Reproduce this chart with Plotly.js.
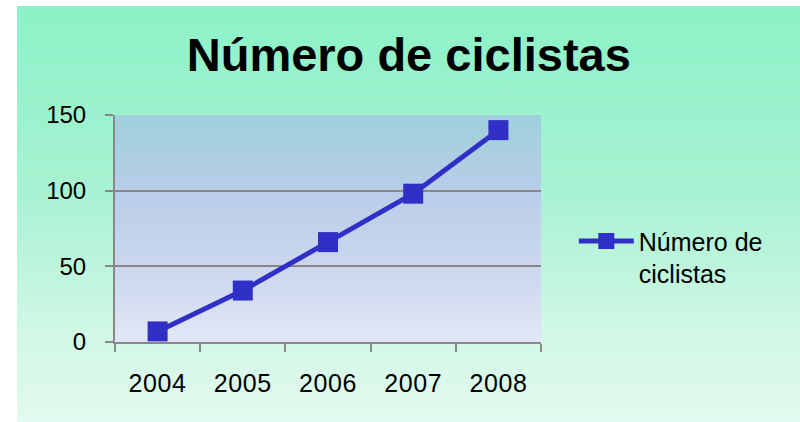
<!DOCTYPE html>
<html>
<head>
<meta charset="utf-8">
<script src="https://cdn.plot.ly/plotly-3.0.1.min.js"></script>
<style>
  html, body { margin: 0; padding: 0; background: #ffffff; }
  #wrap { position: relative; width: 800px; height: 422px; overflow: hidden; }
  #bg { position: absolute; left: 17px; top: 6px; right: 0; bottom: 0;
        background: linear-gradient(to bottom, #8cf2c8 0%, #a8f2d2 45%, #d2f8e6 80%, #e2faef 100%); }
  #chart { position: absolute; left: 0; top: 0; width: 800px; height: 422px; }
  #chart .xtick text { letter-spacing: 0.6px; }
</style>
</head>
<body>
<div id="wrap">
  <div id="bg"></div>
  <div id="chart"></div>
</div>
<script>
const years = ["2004", "2005", "2006", "2007", "2008"];
const cyclists = [7, 34, 66, 98, 140];
const seriesName = "Número de<br>ciclistas";
const chartTitle = "<b>Número de ciclistas</b>";
const yTicks = [0, 50, 100, 150];

const plotGradient = 'data:image/svg+xml;utf8,' + encodeURIComponent(
  '<svg xmlns="http://www.w3.org/2000/svg" width="100" height="100" preserveAspectRatio="none">' +
  '<defs><linearGradient id="g" x1="0" y1="0" x2="0" y2="1">' +
  '<stop offset="0" stop-color="#9dd0da"/>' +
  '<stop offset="0.33" stop-color="#b9cde8"/>' +
  '<stop offset="0.66" stop-color="#cad6ee"/>' +
  '<stop offset="1" stop-color="#e1e7f6"/>' +
  '</linearGradient></defs><rect width="100" height="100" fill="url(#g)"/></svg>');

const trace = {
  x: years,
  y: cyclists,
  type: 'scatter',
  mode: 'lines+markers',
  name: seriesName,
  line: { color: '#3030c8', width: 5 },
  marker: { symbol: 'square', size: 20, color: '#3030c8' }
};

const layout = {
  width: 800,
  height: 422,
  margin: { l: 115, r: 259, t: 115, b: 80 },
  paper_bgcolor: 'rgba(0,0,0,0)',
  plot_bgcolor: 'rgba(0,0,0,0)',
  font: { family: 'Liberation Sans, Arial, sans-serif', color: '#000000' },
  title: {
    text: chartTitle,
    font: { size: 47, family: 'Liberation Sans, Arial, sans-serif', color: '#000000' },
    xref: 'container', x: 0.511, xanchor: 'center',
    yref: 'container', y: 0.87, yanchor: 'middle'
  },
  images: [{
    source: plotGradient,
    xref: 'paper', yref: 'paper',
    x: 0, y: 1, sizex: 1, sizey: 1,
    xanchor: 'left', yanchor: 'top',
    sizing: 'stretch', layer: 'below'
  }],
  xaxis: {
    type: 'category',
    range: [-0.5, 4.5],
    showgrid: false,
    zeroline: false,
    showline: true, linecolor: '#888888', linewidth: 2,
    ticks: 'outside', tickson: 'boundaries', ticklen: 8, tickwidth: 2, tickcolor: '#888888',
    tickfont: { size: 25, color: '#000000' },
    ticklabelstandoff: 18
  },
  yaxis: {
    range: [0, 150],
    tickvals: yTicks,
    ticktext: yTicks.map(String),
    showgrid: true, gridcolor: '#888888', gridwidth: 2,
    zeroline: false,
    showline: true, linecolor: '#888888', linewidth: 2,
    ticks: 'outside', ticklen: 8, tickwidth: 2, tickcolor: '#888888',
    tickfont: { size: 24, color: '#000000' },
    ticklabelstandoff: 14
  },
  showlegend: true,
  legend: {
    x: 1.077, xanchor: 'left',
    y: 0.545, yanchor: 'top',
    bgcolor: 'rgba(0,0,0,0)',
    font: { size: 25, color: '#000000' },
    valign: 'top',
    itemwidth: 55
  }
};

Plotly.newPlot('chart', [trace], layout, { displayModeBar: false, staticPlot: true });
</script>
</body>
</html>
